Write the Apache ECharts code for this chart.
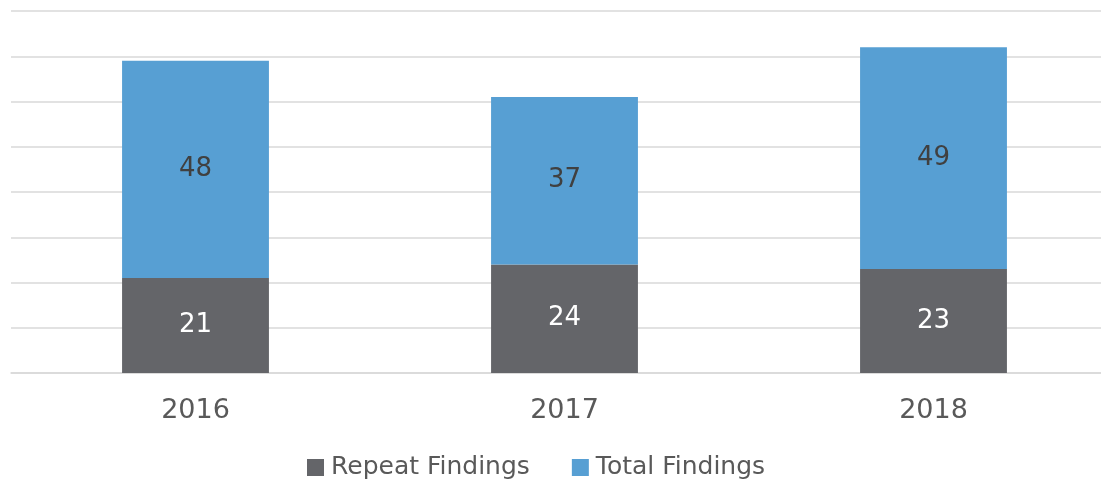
<!DOCTYPE html>
<html><head><meta charset="utf-8">
<script src="https://cdn.jsdelivr.net/npm/echarts@6/dist/echarts.min.js"></script>
<style>html,body{margin:0;padding:0;background:#fff;overflow:hidden;width:1101px;height:485px}#c{width:1118px;height:485px}</style>
</head><body><div id="c"></div>
<script>
const categories = ['2016', '2017', '2018'];
const repeatFindings = [21, 24, 23];
const totalFindings = [48, 37, 49];
const yTicks = { min: 0, max: 80, interval: 10 };

const FONT = 'DejaVu Sans';
const chart = echarts.init(document.getElementById('c'), null, { renderer: 'canvas' });
chart.setOption({
  animation: false,
  textStyle: { fontFamily: FONT },
  grid: { left: 11, right: 0, top: 11, bottom: 112, containLabel: false },
  legend: {
    bottom: 0, left: 302,
    itemWidth: 17, itemHeight: 17, itemGap: 42,
    icon: 'rect',
    textStyle: { fontFamily: FONT, fontSize: 25, color: '#595959', padding: [0, 0, 0, 2] },
    data: ['Repeat Findings', 'Total Findings']
  },
  xAxis: {
    type: 'category', data: categories,
    axisLine: { show: true, lineStyle: { color: '#d9d9d9', width: 1.5 } },
    axisTick: { show: false },
    axisLabel: { fontFamily: FONT, fontSize: 27, color: '#595959', margin: 24 }
  },
  yAxis: {
    type: 'value', min: yTicks.min, max: yTicks.max, interval: yTicks.interval,
    axisLabel: { show: false }, axisLine: { show: false }, axisTick: { show: false },
    splitLine: { lineStyle: { color: '#d9d9d9', width: 1.5 } }
  },
  series: [
    {
      name: 'Repeat Findings', type: 'bar', stack: 'a', data: repeatFindings,
      barWidth: '39.8%',
      itemStyle: { color: '#646569' },
      label: { show: true, position: 'inside', color: '#ffffff', fontFamily: FONT, fontSize: 26 }
    },
    {
      name: 'Total Findings', type: 'bar', stack: 'a', data: totalFindings,
      barWidth: '39.8%',
      itemStyle: { color: '#579fd3' },
      label: { show: true, position: 'inside', color: '#404040', fontFamily: FONT, fontSize: 26 }
    }
  ]
});
</script></body></html>
